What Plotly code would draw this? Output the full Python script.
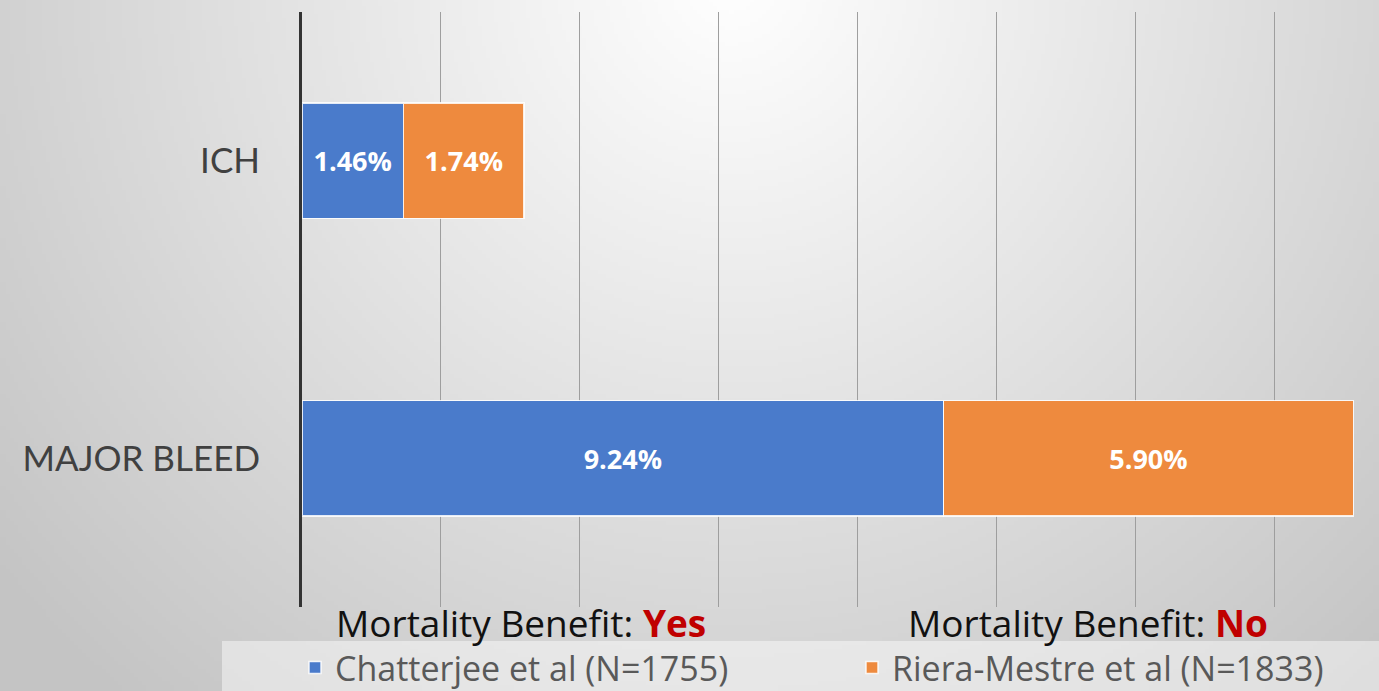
import base64
import struct
import zlib

import numpy as np
import plotly.graph_objects as go

# ---- data -------------------------------------------------------------
categories = ["ICH", "MAJOR BLEED"]
series_names = ["Chatterjee et al (N=1755)", "Riera-Mestre et al (N=1833)"]
chatterjee = [1.46, 9.24]
riera_mestre = [1.74, 5.90]
benefit_labels = ["Yes", "No"]

# ---- geometry ---------------------------------------------------------
W, H = 1379, 691
M_L, M_R, M_T, M_B = 302, 0, 12, 84
PW, PH = W - M_L - M_R, H - M_T - M_B
X_MAX = 15.51


def px_x(px):
    return (px - M_L) / PW


def px_y(py):
    return (H - M_B - py) / PH


def gray_png(arr):
    """Encode a 2-D uint8 array as a grayscale PNG data URI."""
    h, w = arr.shape
    raw = b"".join(b"\x00" + arr[r].tobytes() for r in range(h))

    def chunk(tag, data):
        c = struct.pack(">I", len(data)) + tag + data
        return c + struct.pack(">I", zlib.crc32(tag + data) & 0xFFFFFFFF)

    png = b"\x89PNG\r\n\x1a\n"
    png += chunk(b"IHDR", struct.pack(">IIBBBBB", w, h, 8, 0, 0, 0, 0))
    png += chunk(b"IDAT", zlib.compress(raw, 9))
    png += chunk(b"IEND", b"")
    return "data:image/png;base64," + base64.b64encode(png).decode()


# soft radial background, brightest near the top centre
s = 4
gx, gy = np.meshgrid(np.arange(0, W, s), np.arange(0, H, s))
d = np.hypot(gx - 730, gy + 20)
bg = np.clip(255 - 0.062 * d, 196, 255).astype(np.uint8)
bg_uri = gray_png(bg)

BLUE = "#4A7BCB"
ORANGE = "#EE8A3E"
AXIS_FONT = "Lato"
TEXT_FONT = "Open Sans"

fig = go.Figure()
for i, (name, vals, col) in enumerate([(series_names[0], chatterjee, BLUE),
                                       (series_names[1], riera_mestre, ORANGE)]):
    fig.add_trace(go.Bar(
        name=name, y=categories, x=vals, orientation="h",
        marker=dict(color=col, line=dict(color="rgba(255,255,255,0.85)", width=1.5)),
        width=0.387,
        texttemplate="<b>%{x:.2f}%</b>", textposition="inside",
        insidetextanchor="middle",
        textfont=dict(family=TEXT_FONT, size=27, color="white"),
        hoverinfo="skip", showlegend=True,
        legend="legend" if i == 0 else "legend2",
    ))

legend_common = dict(orientation="h", xanchor="left", yanchor="middle",
                     y=px_y(668), bgcolor="rgba(0,0,0,0)", visible=True,
                     font=dict(family=TEXT_FONT, size=34, color="#595959"))

fig.update_layout(
    width=W, height=H, barmode="stack", showlegend=True,
    margin=dict(l=M_L, r=M_R, t=M_T, b=M_B, pad=0, autoexpand=False),
    paper_bgcolor="rgba(0,0,0,0)", plot_bgcolor="rgba(0,0,0,0)",
    font=dict(family=TEXT_FONT),
    xaxis=dict(range=[0, X_MAX], dtick=2, showticklabels=False,
               showgrid=True, gridcolor="#9e9e9e", gridwidth=1,
               zeroline=False, showline=False, fixedrange=True),
    yaxis=dict(categoryorder="array", categoryarray=categories,
               autorange="reversed", showline=True, linecolor="#333333",
               linewidth=3, ticks="", ticklabelstandoff=32,
               tickfont=dict(family=AXIS_FONT, size=35, color="#404040"),
               showgrid=False, zeroline=False),
    legend=dict(x=px_x(295), **legend_common),
    legend2=dict(x=px_x(852), **legend_common),
    images=[dict(source=bg_uri, xref="paper", yref="paper",
                 x=px_x(0), y=px_y(0), sizex=W / PW, sizey=H / PH,
                 xanchor="left", yanchor="top", sizing="stretch",
                 layer="below")],
    shapes=[dict(type="rect", xref="paper", yref="paper",
                 x0=px_x(222), x1=px_x(W), y0=px_y(641), y1=px_y(H),
                 fillcolor="rgba(255,255,255,0.45)", line=dict(width=0),
                 layer="below")],
)

# "Mortality Benefit" captions under each study
for cx, lab in zip([521, 1088], benefit_labels):
    fig.add_annotation(
        xref="paper", yref="paper", x=px_x(cx), y=px_y(622),
        xanchor="center", yanchor="middle", showarrow=False,
        text=f"Mortality Benefit: <b><span style='color:#C00000'>{lab}</span></b>",
        font=dict(family=TEXT_FONT, size=37, color="#111111"),
    )

fig.write_html("out.html")
